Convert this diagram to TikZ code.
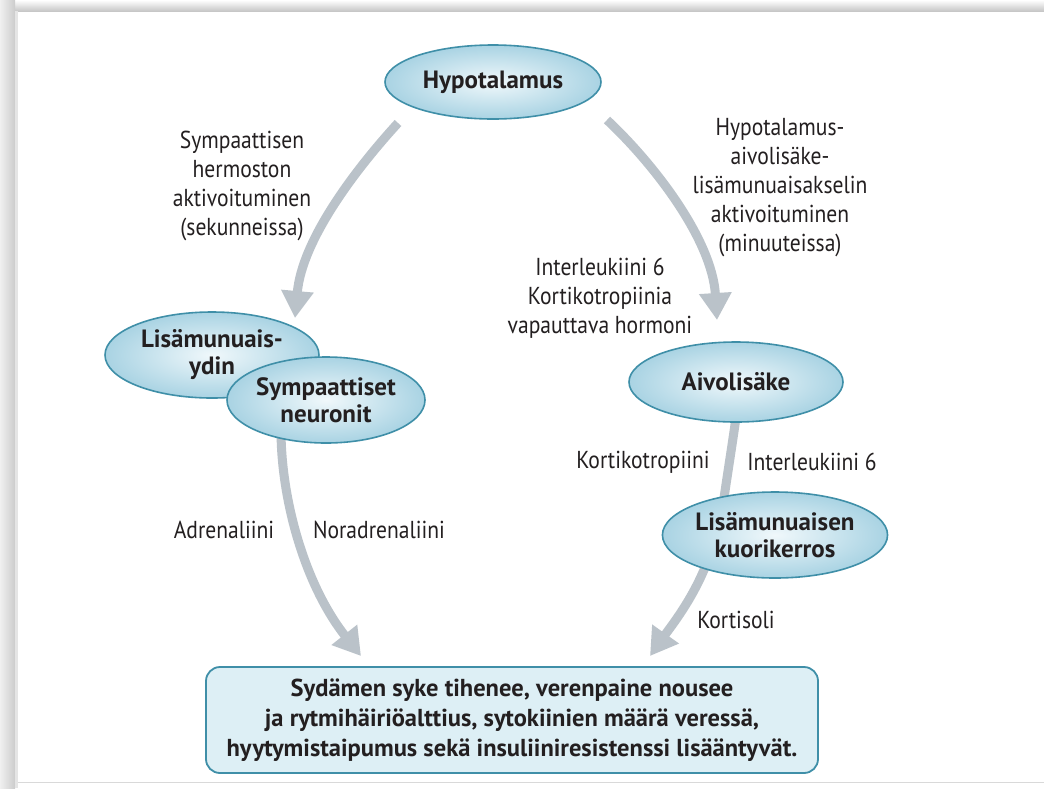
\documentclass[tikz,border=0pt]{standalone}
\usepackage{fontspec}
\setmainfont{PT Sans}[FakeStretch=0.88]
\newfontfamily\heavy{PT Sans}
\usetikzlibrary{arrows.meta,shapes.geometric,shadings}
\definecolor{ellout}{HTML}{A9D3E3}
\definecolor{ellin}{HTML}{F0F8FB}
\definecolor{elledge}{HTML}{3F8FA8}
\definecolor{arrowgray}{HTML}{BAC2C9}
\definecolor{boxfill}{HTML}{DDEFF5}
\definecolor{txt}{HTML}{231F20}
\pgfdeclarelayer{back}
\pgfdeclarelayer{bg}
\pgfsetlayers{back,bg,main}
\tikzset{
  organ/.style={ellipse, draw=elledge, line width=1.6pt, inner color=ellin, outer color=ellout,
    align=center, text=txt, inner sep=0pt, font=\heavy\bfseries\fontsize{25}{27}\selectfont},
  lbl/.style={align=center, text=txt, inner sep=0pt, font=\fontsize{24.5}{29}\selectfont},
  flow/.style={draw=arrowgray, line width=9pt, -{Triangle[width=31pt,length=27pt]}},
  link/.style={draw=arrowgray, line width=9pt},
  resultbox/.style={draw=elledge, line width=1.8pt, fill=boxfill, rounded corners=14pt,
    align=center, text=txt, font=\heavy\bfseries\fontsize{24.5}{30}\selectfont,
    minimum width=612pt, minimum height=106pt}
}
\begin{document}
\begin{tikzpicture}[x=1pt,y=-1pt]
\useasboundingbox (0,0) rectangle (1044,788);
\begin{pgfonlayer}{back}
\fill[white] (0,0) rectangle (1044,788);
% page shadow
\shade[top color=white, bottom color=black!22] (0,0) rectangle (1044,11);
\shade[left color=black!6, right color=black!20] (0,0) rectangle (15,788);
\fill[black!10] (15,11) rectangle (18,788);
\draw[black!15, line width=0.8pt] (18,782) -- (1044,782);
\end{pgfonlayer}

% nodes
\node[organ, minimum width=216pt, minimum height=74pt] (hyp) at (493,82) {Hypotalamus};
\node[organ, minimum width=214pt, minimum height=86pt] (lmy) at (212,355) {Lisämunuais-\\ydin};
\node[organ, minimum width=198pt, minimum height=86pt] (sn) at (326,400) {Sympaattiset\\neuronit};
\node[organ, minimum width=214pt, minimum height=80pt] (aiv) at (736,382) {Aivolisäke};
\node[organ, minimum width=210pt, minimum height=86pt] (lmk) at (775,535) {Lisämunuaisen\\kuorikerros};
\node[resultbox] (res) at (512,720) {Sydämen syke tihenee, verenpaine nousee\\ja rytmihäiriöalttius, sytokiinien määrä veressä,\\hyytymistaipumus sekä insuliiniresistenssi lisääntyvät.};

% labels
\node[lbl] (l1) at (242,186) {Sympaattisen\\hermoston\\aktivoituminen\\(sekunneissa)};
\node[lbl] (l2) at (780,188) {Hypotalamus-\\aivolisäke-\\lisämunuaisakselin\\aktivoituminen\\(minuuteissa)};
\node[lbl] (l3) at (600,298) {Interleukiini 6\\Kortikotropiinia\\vapauttava hormoni};
\node[lbl] (l4) at (643,462) {Kortikotropiini};
\node[lbl] (l5) at (812,462) {Interleukiini 6};
\node[lbl] (l6) at (224,530) {Adrenaliini};
\node[lbl] (l7) at (379,530) {Noradrenaliini};
\node[lbl] (l8) at (736,620) {Kortisoli};

% connector ends
\coordinate (a1s) at (398,123);
\coordinate (a1e) at (295,318);
\coordinate (a2s) at (607,120);
\coordinate (a2e) at (717,320);
\coordinate (a3s) at (281,430);
\coordinate (a3e) at (361,656);
\coordinate (a4s) at (737,410);
\coordinate (a4e) at (723,505);
\coordinate (a5s) at (706,565);
\coordinate (a5e) at (650,656);

\begin{pgfonlayer}{bg}
\draw[flow] (a1s) .. controls (355,170) and (302,240) .. (a1e);
\draw[flow] (a2s) .. controls (655,165) and (712,240) .. (a2e);
\draw[flow] (a3s) .. controls (281,500) and (305,585) .. (a3e);
\draw[link] (a4s) .. controls (733,440) and (728,470) .. (a4e);
\draw[flow] (a5s) .. controls (692,600) and (672,625) .. (a5e);
\end{pgfonlayer}
\end{tikzpicture}
\end{document}
